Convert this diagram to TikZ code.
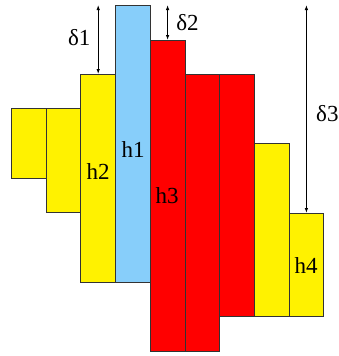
\documentclass[tikz,border=0pt]{standalone}
\usepackage{fontspec}
\setmainfont{Liberation Serif}
\newfontfamily\barfont{Liberation Serif}
\usetikzlibrary{arrows.meta}
\definecolor{barblue}{HTML}{87CEFA}

\begin{document}
\begin{tikzpicture}[x=1pt,y=-1pt,
  bar/.style={draw=black!80,line width=0.9pt,minimum width=34.7pt,inner sep=0pt,anchor=north west},
  yb/.style={bar,fill=yellow},
  bb/.style={bar,fill=barblue},
  rb/.style={bar,fill=red},
  lbl/.style={font=\barfont\fontsize{23}{27}\selectfont},
  dim/.style={{Latex[length=5pt,width=3.5pt]}-{Latex[length=5pt,width=3.5pt]},line width=0.9pt}]
\useasboundingbox (0,0) rectangle (338,356);
% bars, left to right
\node[yb,minimum height=70pt] (b1) at (11,108) {};
\node[yb,minimum height=104pt] (b2) at (45.7,108) {};
\node[yb,minimum height=208pt] (b3) at (80.4,74) {};
\node[bb,minimum height=277pt] (b4) at (115.1,5) {};
\node[rb,minimum height=311pt] (b5) at (149.8,40) {};
\node[rb,minimum height=277pt] (b6) at (184.5,74) {};
\node[rb,minimum height=242pt] (b7) at (219.2,74) {};
\node[yb,minimum height=173pt] (b8) at (253.9,143) {};
\node[yb,minimum height=103pt] (b9) at (288.6,213) {};
% heights
\node[lbl] (h1) at (133,150) {h1};
\node[lbl] (h2) at (98,172) {h2};
\node[lbl] (h3) at (167,196) {h3};
\node[lbl] (h4) at (306,266) {h4};
% gaps to the top
\coordinate (t1) at (b3.north |- b4.north);
\coordinate (t2) at (b5.north |- b4.north);
\coordinate (t3) at (b9.north |- b4.north);
\draw[dim] (t1) -- node[lbl,left,xshift=-4pt,yshift=2pt] (d1) {δ1} (b3.north);
\draw[dim] (t2) -- node[lbl,right,xshift=5pt] (d2) {δ2} (b5.north);
\draw[dim] (t3) -- node[lbl,right,xshift=6pt,yshift=-5pt] (d3) {δ3} (b9.north);
\end{tikzpicture}
\end{document}
